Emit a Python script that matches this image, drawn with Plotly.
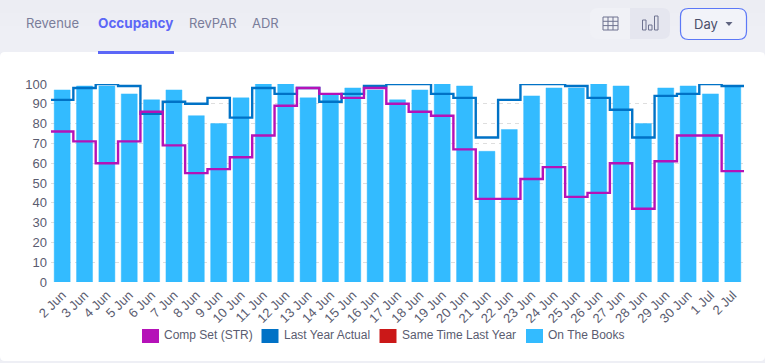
import plotly.graph_objects as go

days = ["2 Jun","3 Jun","4 Jun","5 Jun","6 Jun","7 Jun","8 Jun","9 Jun","10 Jun","11 Jun","12 Jun","13 Jun","14 Jun","15 Jun","16 Jun","17 Jun","18 Jun","19 Jun","20 Jun","21 Jun","22 Jun","23 Jun","24 Jun","25 Jun","26 Jun","27 Jun","28 Jun","29 Jun","30 Jun","1 Jul","2 Jul"]
on_the_books = [97,99,99,95,92,97,84,80,93,100,100,93,95,98,97,92,97,100,99,66,77,94,98,98,100,99,80,98,99,95,99]
last_year_actual = [92,98,100,99,85,91,90,93,83,98,95,98,91,95,99,100,100,95,93,73,92,100,100,99,93,87,73,94,95,100,99]
comp_set = [76,71,60,71,86,69,55,57,63,74,89,98,95,93,98,90,86,84,67,42,42,52,58,43,45,60,37,61,74,74,56]
yticks = list(range(0,101,10))
tabs = ["Revenue","Occupancy","RevPAR","ADR"]

W, H = 765, 363
L, R, T, B = 51, 744, 84, 282
PURPLE, BLUE, RED, SKY = "#b512b8", "#0072c6", "#cb1818", "#33bbff"
def fx(p): return (p-L)/(R-L)
def fy(p): return (B-p)/(B-T)

def rrect(x0,y0,x1,y1,r,fill=None,line=None,lw=1,tl=True,tr=True,bl=True,br=True):
    a,b,c,d = fx(x0),fx(x1),fy(y0),fy(y1)
    rx,ry = r/(R-L), r/(B-T)
    p = f"M {a+(rx if tl else 0)} {c} L {b-(rx if tr else 0)} {c} "
    p += f"Q {b} {c} {b} {c-ry} " if tr else ""
    p += f"L {b} {d+(ry if br else 0)} "
    p += f"Q {b} {d} {b-rx} {d} " if br else ""
    p += f"L {a+(rx if bl else 0)} {d} "
    p += f"Q {a} {d} {a} {d+ry} " if bl else ""
    p += f"L {a} {c-(ry if tl else 0)} "
    p += f"Q {a} {c} {a+rx} {c} " if tl else ""
    p += "Z"
    return dict(type="path",xref="paper",yref="paper",path=p,fillcolor=fill or "rgba(0,0,0,0)",
                line=dict(color=line or "rgba(0,0,0,0)",width=lw if line else 0),layer="below")
def seg(x0,y0,x1,y1,c="#6f7390",w=1):
    return dict(type="line",xref="paper",yref="paper",x0=fx(x0),x1=fx(x1),y0=fy(y0),y1=fy(y1),line=dict(color=c,width=w),layer="above")
def rect(x0,y0,x1,y1,fill,layer="above"):
    return dict(type="rect",xref="paper",yref="paper",x0=fx(x0),x1=fx(x1),y0=fy(y0),y1=fy(y1),fillcolor=fill,line=dict(width=0),layer=layer)
def label(x,y,text,size,color,font,anchor="left",bold=False):
    t = f"<b>{text}</b>" if bold else text
    return dict(xref="paper",yref="paper",x=fx(x),y=fy(y),text=t,showarrow=False,xanchor=anchor,yanchor="middle",
                font=dict(size=size,color=color,family=font),borderpad=0,borderwidth=0)

shapes = [
    rect(0,0,765,13,"#ecedf3","below"),
    rect(0,13,765,26,"#edeef4","below"),
    rrect(0,52,765,361,5,fill="#ffffff"),
    rect(98,51,174,54,"#5c67f7"),
    rrect(590,8,630,39,8,fill="#f0f1f6",tr=False,br=False),
    rrect(630,8,670,39,8,fill="#e5e6ef",tl=False,bl=False),
    rrect(680.5,8.5,746.5,39.5,8,fill="#f2f3f9",line="#5c78f7",lw=1.2),
]
# grid icon
for v in [603,608,613,618]:
    shapes.append(seg(v,17,v,30))
for h in [17,21.3,25.6,30]:
    shapes.append(seg(603,h,618,h))
# bars icon
for x0,y0 in [(642.5,20),(648.5,25),(654.5,16)]:
    shapes.append(rrect(x0,y0,x0+3.5,30,0,line="#6f7390",lw=1))
    shapes[-1]["layer"]="above"
shapes.append(dict(type="path",xref="paper",yref="paper",path=f"M {fx(725.5)} {fy(22)} L {fx(732.5)} {fy(22)} L {fx(729)} {fy(26)} Z",fillcolor="#5f6480",line=dict(width=0)))

annotations = [
    label(26,23,tabs[0],13,"#7a7d9a","Inter"),
    label(98,22.5,tabs[1],13.5,"#5c67f7","Inter",bold=True),
    label(189,23,tabs[2],13,"#7a7d9a","Inter"),
    label(252,23,tabs[3],13,"#7a7d9a","Inter"),
    label(694,24.5,"Day",13,"#4a4f6a","Inter"),
]
legend_items = [("Comp Set (STR)",PURPLE,142,164),("Last Year Actual",BLUE,261.5,284),("Same Time Last Year",RED,379.5,402),("On The Books",SKY,526,548)]
for name,col,sx,tx in legend_items:
    shapes.append(rect(sx,329,sx+17,343,col))
    annotations.append(label(tx,335,name,12,"#5a5c70","Liberation Sans"))

fig = go.Figure()
fig.add_trace(go.Bar(x=days,y=on_the_books,name="On The Books",width=0.715,marker=dict(color=SKY,line=dict(color="rgba(51,187,255,0.45)",width=1)),showlegend=False))
step_x = [i-0.5 for i in range(len(days)+1)]
for name,vals,col in [("Same Time Last Year",[None]*len(days),RED),("Last Year Actual",last_year_actual,BLUE),("Comp Set (STR)",comp_set,PURPLE)]:
    fig.add_trace(go.Scatter(x=step_x,y=list(vals)+[vals[-1]],name=name,mode="lines",xaxis="x2",
                             line=dict(color=col,width=2.4,shape="hv"),showlegend=False,cliponaxis=False))

fig.update_layout(
    width=W,height=H,autosize=False,
    margin=dict(l=L,r=W-R,t=T,b=H-B,pad=0),
    paper_bgcolor="#eeeff5",plot_bgcolor="rgba(0,0,0,0)",
    showlegend=False,bargap=0.285,
    font=dict(family="Liberation Sans",size=12,color="#5a5c70"),
    xaxis=dict(type="category",range=[-0.5,len(days)-0.5],tickangle=-45,showgrid=False,zeroline=False,showline=False,ticks="",
               tickfont=dict(size=13,color="#5a5c70"),tickmode="array",tickvals=days,ticktext=days,ticklabelstandoff=2),
    xaxis2=dict(overlaying="x",range=[-0.5,len(days)-0.5],visible=False),
    yaxis=dict(range=[0,100],tickmode="array",tickvals=yticks,ticks="",showline=False,zeroline=False,
               showgrid=True,griddash="4px,4px",gridcolor="#dedede",gridwidth=1,
               tickfont=dict(size=13,color="#5a5c70"),ticklabelstandoff=3),
    shapes=shapes,annotations=annotations,
)
fig.write_html("out.html",config={"displayModeBar":False},post_script="document.body.style.margin='0';document.body.style.overflow='hidden';")
